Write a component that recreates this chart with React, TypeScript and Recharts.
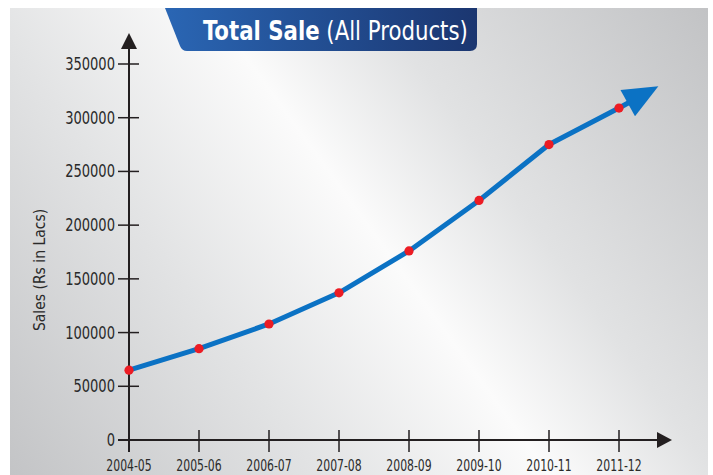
import React from "react";
import { LineChart, Line, XAxis, YAxis } from "recharts";

const years = ["2004-05", "2005-06", "2006-07", "2007-08", "2008-09", "2009-10", "2010-11", "2011-12"];
const sales = [65000, 85000, 108000, 137000, 176000, 223000, 275000, 309000];
const yTicks = [0, 50000, 100000, 150000, 200000, 250000, 300000, 350000];

const data = years.map((year, i) => ({ year, sales: sales[i] }));

const FONT = "'Liberation Sans Narrow', 'DejaVu Sans Condensed', 'Liberation Sans', sans-serif";
const INK = "#231f20";
const AXIS_X = 129;
const AXIS_Y = 440;

// narrow text: the installed fonts are wider than the condensed face in the original
const YTick = (props: any) => {
  const { y, payload } = props;
  return (
    <g>
      <line x1={AXIS_X - 11} x2={AXIS_X + 10} y1={y} y2={y} stroke={INK} strokeWidth={1.5} />
      <text
        transform={`translate(${AXIS_X - 14},${y + 6}) scale(0.83,1)`}
        textAnchor="end"
        fontFamily={FONT}
        fontSize={17.5}
        fill="#2a2a2a"
      >
        {payload.value}
      </text>
    </g>
  );
};

const XTick = (props: any) => {
  const { x, payload } = props;
  return (
    <g>
      <line x1={x} x2={x} y1={AXIS_Y - 10} y2={AXIS_Y + 12} stroke={INK} strokeWidth={1.5} />
      <text
        transform={`translate(${x},${AXIS_Y + 31}) scale(0.78,1)`}
        textAnchor="middle"
        fontFamily={FONT}
        fontSize={15.5}
        fill="#2a2a2a"
      >
        {payload.value}
      </text>
    </g>
  );
};

const SaleDot = (props: any) => {
  const { cx, cy, index } = props;
  const last = index === data.length - 1;
  return (
    <g key={`dot-${index}`}>
      {last && (
        <g transform={`translate(${cx},${cy}) rotate(-29)`}>
          <line x1={0} y1={0} x2={12} y2={0} stroke="#0b72c4" strokeWidth={5} />
          <polygon points="10,-15 45,0 10,15" fill="#0b72c4" />
        </g>
      )}
      <circle cx={cx} cy={cy} r={4.6} fill="#ec1c24" />
    </g>
  );
};

export default function App() {
  return (
    <div style={{ position: "absolute", left: 0, top: 0, width: 713, height: 475, background: "#fff" }}>
      <div
        style={{
          position: "absolute",
          left: 10,
          top: 8,
          width: 698,
          height: 467,
          background:
            "linear-gradient(54deg, #c3c4c6 0%, #e2e3e4 30%, #fbfbfb 52%, #e1e2e3 68%, #c2c3c5 100%)",
        }}
      />
      <svg width={713} height={475} style={{ position: "absolute", left: 0, top: 0 }}>
        <defs>
          <linearGradient id="banner" x1="0" y1="0" x2="1" y2="0">
            <stop offset="0%" stopColor="#2a66b4" />
            <stop offset="100%" stopColor="#1b3670" />
          </linearGradient>
        </defs>
        <path d="M165,8 L477,8 L477,44 Q477,51 470,51 L187,51 Q182,51 180,46 Z" fill="url(#banner)" />
        <text transform="translate(203,40) scale(0.91,1)" fontFamily={FONT} fontSize={26} fill="#fff">
          <tspan fontWeight="bold">Total Sale</tspan>
          <tspan> (All Products)</tspan>
        </text>
        <text
          transform="translate(45,270) rotate(-90)"
          textAnchor="middle"
          fontFamily={FONT}
          fontSize={15.5}
          fill="#2a2a2a"
        >
          Sales (Rs in Lacs)
        </text>
        <line x1={AXIS_X} x2={AXIS_X} y1={452} y2={45} stroke={INK} strokeWidth={2} />
        <polygon points={`${AXIS_X - 8},49 ${AXIS_X + 8},49 ${AXIS_X},33`} fill={INK} />
        <line x1={118} x2={660} y1={AXIS_Y} y2={AXIS_Y} stroke={INK} strokeWidth={2} />
        <polygon points={`657,432 657,448 672,${AXIS_Y}`} fill={INK} />
      </svg>
      <div style={{ position: "absolute", left: 0, top: 0 }}>
        <LineChart width={713} height={475} data={data} margin={{ top: 64, right: 41, bottom: 0, left: 0 }}>
          <XAxis
            dataKey="year"
            height={35}
            axisLine={false}
            tickLine={false}
            interval={0}
            padding={{ left: 0, right: 53 }}
            tick={<XTick />}
          />
          <YAxis
            width={129}
            domain={[0, 350000]}
            ticks={yTicks}
            axisLine={false}
            tickLine={false}
            tick={<YTick />}
          />
          <Line
            type="linear"
            dataKey="sales"
            stroke="#0b72c4"
            strokeWidth={5}
            strokeLinejoin="round"
            dot={SaleDot}
            activeDot={false}
            isAnimationActive={false}
          />
        </LineChart>
      </div>
    </div>
  );
}
